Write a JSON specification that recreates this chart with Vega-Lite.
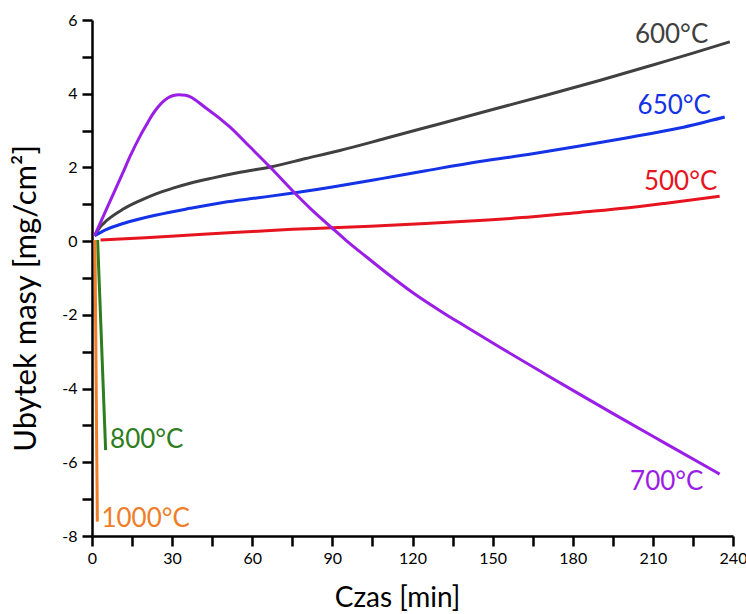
{
  "$schema": "https://vega.github.io/schema/vega-lite/v6.json",
  "width": 641,
  "height": 516,
  "autosize": "none",
  "padding": {"left": 92, "top": 20, "right": 13, "bottom": 78},
  "background": "white",
  "config": {
    "view": {"stroke": null},
    "font": "Lato",
    "axis": {
      "domainColor": "black",
      "domainWidth": 2.5,
      "tickColor": "black",
      "tickWidth": 2.5,
      "tickSize": 10,
      "grid": false,
      "labelFont": "Lato",
      "labelFontSize": 16,
      "labelColor": "black",
      "labelOverlap": false,
      "labelFlush": false,
      "titleFont": "Lato",
      "titleFontSize": 28,
      "titleFontWeight": "normal",
      "titleColor": "black"
    }
  },
  "datasets": {
    "series": [
      {"t": 3.2, "m": 0.03, "T": "500"},
      {"t": 20, "m": 0.09, "T": "500"},
      {"t": 40, "m": 0.18, "T": "500"},
      {"t": 60, "m": 0.26, "T": "500"},
      {"t": 75, "m": 0.32, "T": "500"},
      {"t": 90, "m": 0.36, "T": "500"},
      {"t": 108, "m": 0.42, "T": "500"},
      {"t": 125, "m": 0.48, "T": "500"},
      {"t": 145, "m": 0.56, "T": "500"},
      {"t": 165, "m": 0.66, "T": "500"},
      {"t": 182.6, "m": 0.78, "T": "500"},
      {"t": 200, "m": 0.9, "T": "500"},
      {"t": 215, "m": 1.03, "T": "500"},
      {"t": 235, "m": 1.22, "T": "500"},

      {"t": 1, "m": 0.15, "T": "600"},
      {"t": 3, "m": 0.38, "T": "600"},
      {"t": 5.5, "m": 0.56, "T": "600"},
      {"t": 11.7, "m": 0.87, "T": "600"},
      {"t": 18, "m": 1.1, "T": "600"},
      {"t": 24.2, "m": 1.29, "T": "600"},
      {"t": 30, "m": 1.43, "T": "600"},
      {"t": 36.7, "m": 1.57, "T": "600"},
      {"t": 45, "m": 1.71, "T": "600"},
      {"t": 55, "m": 1.86, "T": "600"},
      {"t": 67.2, "m": 2.02, "T": "600"},
      {"t": 80, "m": 2.24, "T": "600"},
      {"t": 92.8, "m": 2.46, "T": "600"},
      {"t": 110, "m": 2.79, "T": "600"},
      {"t": 130, "m": 3.18, "T": "600"},
      {"t": 150, "m": 3.57, "T": "600"},
      {"t": 170, "m": 3.96, "T": "600"},
      {"t": 190, "m": 4.36, "T": "600"},
      {"t": 210, "m": 4.78, "T": "600"},
      {"t": 225, "m": 5.1, "T": "600"},
      {"t": 238.8, "m": 5.41, "T": "600"},

      {"t": 1, "m": 0.15, "T": "650"},
      {"t": 5.5, "m": 0.32, "T": "650"},
      {"t": 11.7, "m": 0.48, "T": "650"},
      {"t": 24.2, "m": 0.71, "T": "650"},
      {"t": 36.7, "m": 0.89, "T": "650"},
      {"t": 49.1, "m": 1.05, "T": "650"},
      {"t": 61.6, "m": 1.17, "T": "650"},
      {"t": 74, "m": 1.29, "T": "650"},
      {"t": 90, "m": 1.47, "T": "650"},
      {"t": 107.8, "m": 1.69, "T": "650"},
      {"t": 125, "m": 1.91, "T": "650"},
      {"t": 145.2, "m": 2.16, "T": "650"},
      {"t": 165, "m": 2.37, "T": "650"},
      {"t": 182.6, "m": 2.58, "T": "650"},
      {"t": 200, "m": 2.8, "T": "650"},
      {"t": 220, "m": 3.07, "T": "650"},
      {"t": 236.9, "m": 3.37, "T": "650"},

      {"t": 1, "m": 0.15, "T": "700"},
      {"t": 5.5, "m": 0.88, "T": "700"},
      {"t": 8, "m": 1.28, "T": "700"},
      {"t": 11.7, "m": 1.88, "T": "700"},
      {"t": 14.2, "m": 2.29, "T": "700"},
      {"t": 18, "m": 2.85, "T": "700"},
      {"t": 20.5, "m": 3.17, "T": "700"},
      {"t": 22.5, "m": 3.42, "T": "700"},
      {"t": 24.5, "m": 3.62, "T": "700"},
      {"t": 26.5, "m": 3.78, "T": "700"},
      {"t": 28.5, "m": 3.89, "T": "700"},
      {"t": 30.5, "m": 3.95, "T": "700"},
      {"t": 32.5, "m": 3.97, "T": "700"},
      {"t": 35, "m": 3.96, "T": "700"},
      {"t": 42.9, "m": 3.6, "T": "700"},
      {"t": 51.6, "m": 3.1, "T": "700"},
      {"t": 59.1, "m": 2.56, "T": "700"},
      {"t": 67.2, "m": 1.97, "T": "700"},
      {"t": 76, "m": 1.3, "T": "700"},
      {"t": 82, "m": 0.87, "T": "700"},
      {"t": 89.7, "m": 0.37, "T": "700"},
      {"t": 95, "m": 0.03, "T": "700"},
      {"t": 102.8, "m": -0.43, "T": "700"},
      {"t": 112, "m": -0.96, "T": "700"},
      {"t": 121.5, "m": -1.47, "T": "700"},
      {"t": 131, "m": -1.92, "T": "700"},
      {"t": 140.2, "m": -2.33, "T": "700"},
      {"t": 152.7, "m": -2.88, "T": "700"},
      {"t": 170.2, "m": -3.63, "T": "700"},
      {"t": 182, "m": -4.13, "T": "700"},
      {"t": 195.1, "m": -4.68, "T": "700"},
      {"t": 215, "m": -5.5, "T": "700"},
      {"t": 235, "m": -6.32, "T": "700"},

      {"t": 2.1, "m": 0.03, "T": "800"},
      {"t": 5.1, "m": -5.67, "T": "800"},

      {"t": 1.1, "m": 0.03, "T": "1000"},
      {"t": 2.0, "m": -7.61, "T": "1000"}
    ],
    "labels": [
      {"t": 217, "m": 5.59, "T": "600", "label": "600°C"},
      {"t": 218, "m": 3.67, "T": "650", "label": "650°C"},
      {"t": 220.4, "m": 1.61, "T": "500", "label": "500°C"},
      {"t": 215.2, "m": -6.54, "T": "700", "label": "700°C"},
      {"t": 20.5, "m": -5.4, "T": "800", "label": "800°C"},
      {"t": 20.1, "m": -7.54, "T": "1000", "label": "1000°C"}
    ]
  },
  "encoding": {
    "x": {
      "field": "t",
      "type": "quantitative",
      "scale": {"domain": [0, 240], "nice": false, "zero": false},
      "axis": {
        "title": "Czas [min]",
        "values": [0, 15, 30, 45, 60, 75, 90, 105, 120, 135, 150, 165, 180, 195, 210, 225, 240],
        "labelExpr": "datum.value % 30 === 0 ? '' + datum.value : ''",
        "labelPadding": 4,
        "titleX": 305,
        "titleY": 62,
        "titleAlign": "center",
        "titleBaseline": "middle"
      }
    },
    "y": {
      "field": "m",
      "type": "quantitative",
      "scale": {"domain": [-8, 6], "nice": false, "zero": false},
      "axis": {
        "title": "Ubytek masy [mg/cm²]",
        "titleFontSize": 31,
        "values": [-8, -7, -6, -5, -4, -3, -2, -1, 0, 1, 2, 3, 4, 5, 6],
        "labelExpr": "datum.value % 2 === 0 ? '' + datum.value : ''",
        "labelPadding": 5,
        "titleX": -66,
        "titleY": 278,
        "titleAngle": 270,
        "titleAlign": "center",
        "titleBaseline": "middle"
      }
    },
    "color": {
      "field": "T",
      "type": "nominal",
      "legend": null,
      "scale": {
        "domain": ["500", "600", "650", "700", "800", "1000"],
        "range": ["#e6141e", "#404040", "#1432e6", "#9a1ee6", "#2e7d1e", "#f07d28"]
      }
    }
  },
  "layer": [
    {
      "data": {"name": "series"},
      "mark": {"type": "line", "strokeWidth": 3, "strokeJoin": "round", "strokeCap": "butt", "interpolate": "monotone"},
      "encoding": {"detail": {"field": "T"}, "order": {"field": "t", "type": "quantitative"}}
    },
    {
      "data": {"name": "labels"},
      "mark": {"type": "text", "font": "Lato", "fontSize": 26, "align": "center", "baseline": "middle"},
      "encoding": {"text": {"field": "label"}}
    }
  ]
}
